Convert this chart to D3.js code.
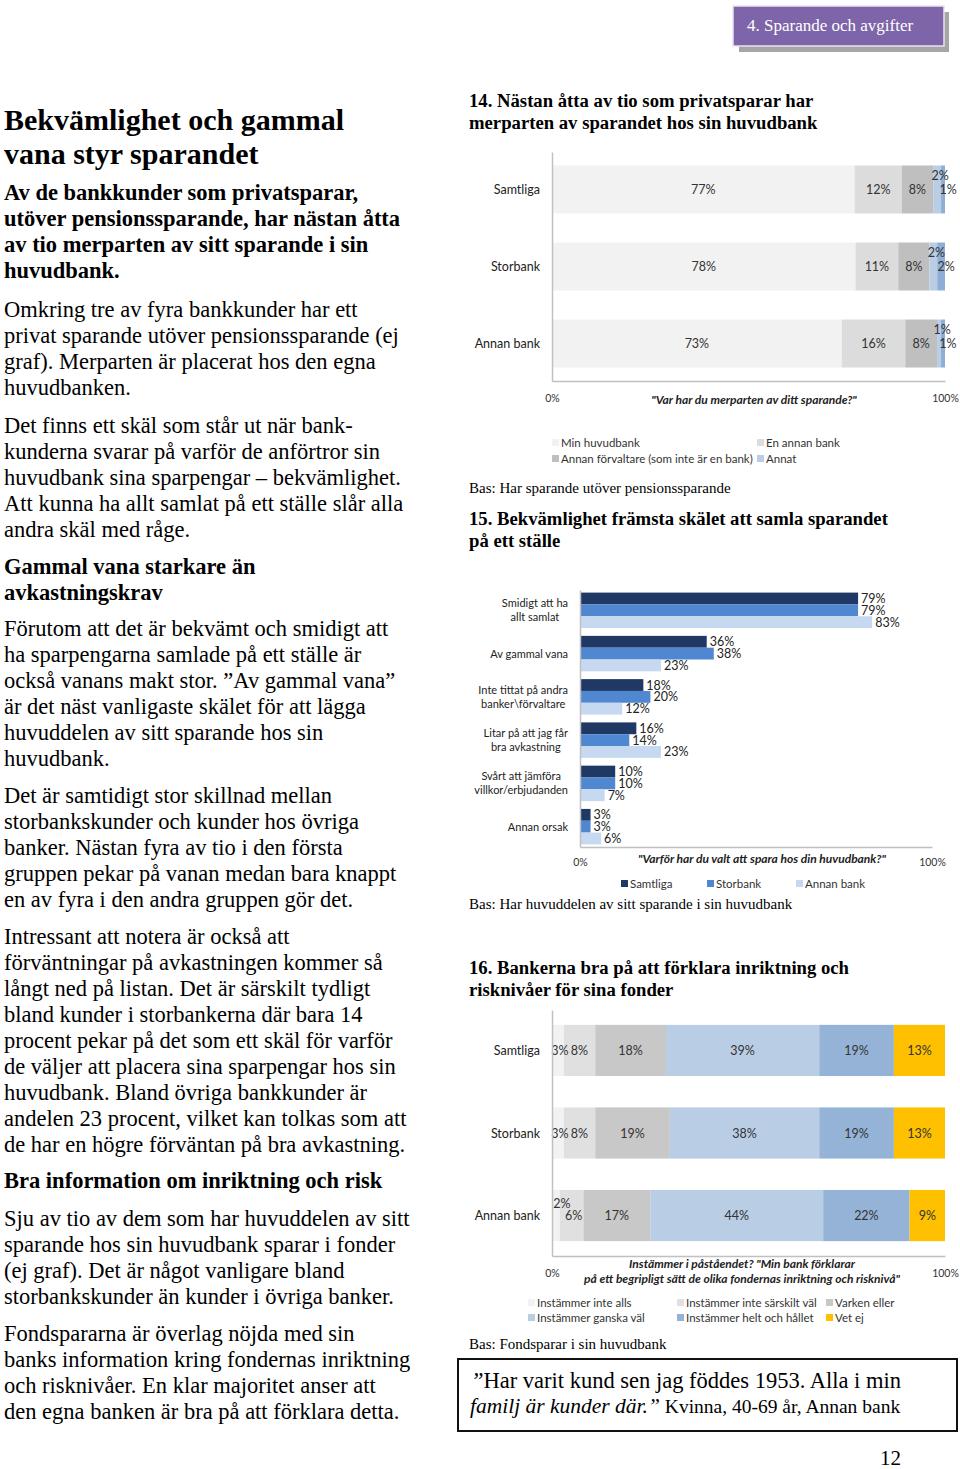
<!DOCTYPE html>
<html><head><meta charset="utf-8">
<script src="https://cdn.jsdelivr.net/npm/d3@7"></script>
<style>body{margin:0;background:#fff}svg{display:block}</style>
</head><body><svg id="page" width="960" height="1469"></svg>
<script>
// ---------- DATA ----------
// Chart 14
const c14Categories = ["Samtliga", "Storbank", "Annan bank"];
const c14Series = ["Min huvudbank", "En annan bank", "Annan förvaltare (som inte är en bank)", "Annat", ""];
const c14Samtliga = [77, 12, 8, 2, 1];
const c14Storbank = [78, 11, 8, 2, 2];
const c14Annan = [73, 16, 8, 1, 1];
const c14Colors = ["#F2F2F2", "#DCDCDC", "#BFBFBF", "#B9CDE5", "#8FAED6"];

// Chart 15
const c15Categories = [["Smidigt att ha", "allt samlat"], ["Av gammal vana"], ["Inte tittat på andra", "banker\\förvaltare"], ["Litar på att jag får", "bra avkastning"], ["Svårt att jämföra", "villkor/erbjudanden"], ["Annan orsak"]];
const c15Series = ["Samtliga", "Storbank", "Annan bank"];
const c15Samtliga = [79, 36, 18, 16, 10, 3];
const c15Storbank = [79, 38, 20, 14, 10, 3];
const c15Annan = [83, 23, 12, 23, 7, 6];
const c15Colors = ["#1F3864", "#4F88D0", "#C6D9F1"];

// Chart 16
const c16Categories = ["Samtliga", "Storbank", "Annan bank"];
const c16Series = ["Instämmer inte alls", "Instämmer inte särskilt väl", "Varken eller", "Instämmer ganska väl", "Instämmer helt och hållet", "Vet ej"];
const c16Samtliga = [3, 8, 18, 39, 19, 13];
const c16Storbank = [3, 8, 19, 38, 19, 13];
const c16Annan = [2, 6, 17, 44, 22, 9];
const c16Colors = ["#F2F2F2", "#E0E0E0", "#C8C8C8", "#B9CDE5", "#95B3D7", "#FFC000"];

const axisTicks = [0, 1];

// ---------- TEXT ----------
const leftBlocks = [
  {y: 130, lh: 34, size: 30, bold: true, lines: ["Bekvämlighet och gammal", "vana styr sparandet"]},
  {y: 200, lh: 26, size: 22.5, bold: true, lines: ["Av de bankkunder som privatsparar,", "utöver pensionssparande, har nästan åtta", "av tio merparten av sitt sparande i sin", "huvudbank."]},
  {y: 317, lh: 26, size: 22.5, lines: ["Omkring tre av fyra bankkunder har ett", "privat sparande utöver pensionssparande (ej", "graf). Merparten är placerat hos den egna", "huvudbanken."]},
  {y: 433, lh: 26, size: 22.5, lines: ["Det finns ett skäl som står ut när bank-", "kunderna svarar på varför de anförtror sin", "huvudbank sina sparpengar – bekvämlighet.", "Att kunna ha allt samlat på ett ställe slår alla", "andra skäl med råge."]},
  {y: 574, lh: 26, size: 22.5, bold: true, lines: ["Gammal vana starkare än", "avkastningskrav"]},
  {y: 636, lh: 26, size: 22.5, lines: ["Förutom att det är bekvämt och smidigt att", "ha sparpengarna samlade på ett ställe är", "också vanans makt stor. ”Av gammal vana”", "är det näst vanligaste skälet för att lägga", "huvuddelen av sitt sparande hos sin", "huvudbank."]},
  {y: 803, lh: 26, size: 22.5, lines: ["Det är samtidigt stor skillnad mellan", "storbankskunder och kunder hos övriga", "banker. Nästan fyra av tio i den första", "gruppen pekar på vanan medan bara knappt", "en av fyra i den andra gruppen gör det."]},
  {y: 944, lh: 26, size: 22.5, lines: ["Intressant att notera är också att", "förväntningar på avkastningen kommer så", "långt ned på listan. Det är särskilt tydligt", "bland kunder i storbankerna där bara 14", "procent pekar på det som ett skäl för varför", "de väljer att placera sina sparpengar hos sin", "huvudbank. Bland övriga bankkunder är", "andelen 23 procent, vilket kan tolkas som att", "de har en högre förväntan på bra avkastning."]},
  {y: 1188, lh: 26, size: 22.5, bold: true, lines: ["Bra information om inriktning och risk"]},
  {y: 1226, lh: 26, size: 22.5, lines: ["Sju av tio av dem som har huvuddelen av sitt", "sparande hos sin huvudbank sparar i fonder", "(ej graf). Det är något vanligare bland", "storbankskunder än kunder i övriga banker."]},
  {y: 1341, lh: 26, size: 22.5, lines: ["Fondspararna är överlag nöjda med sin", "banks information kring fondernas inriktning", "och risknivåer. En klar majoritet anser att", "den egna banken är bra på att förklara detta."]}
];

const SERIF = "'Liberation Serif','Times New Roman',serif";
const SANS = "Lato,'Open Sans',sans-serif";
const svg = d3.select("#page");

// header tab
svg.append("rect").attr("x", 739).attr("y", 12).attr("width", 210).attr("height", 40).attr("fill", "#A6A6A6");
svg.append("rect").attr("x", 733).attr("y", 6).attr("width", 211).attr("height", 40).attr("fill", "#7E64A8").attr("stroke", "#E8E4F0").attr("stroke-width", 1.5);
svg.append("text").attr("x", 747).attr("y", 31).attr("font-family", SERIF).attr("font-size", 17).attr("fill", "#fff").text("4. Sparande och avgifter");

// left column
leftBlocks.forEach(b => {
  b.lines.forEach((l, i) => {
    svg.append("text").attr("x", 4).attr("y", b.y + i * b.lh)
      .attr("font-family", SERIF).attr("font-size", b.size)
      .attr("font-weight", b.bold ? "bold" : "normal").attr("fill", "#000").text(l);
  });
});

function serifLines(lines, x, y, lh, size, bold) {
  lines.forEach((l, i) => svg.append("text").attr("x", x).attr("y", y + i * lh)
    .attr("font-family", SERIF).attr("font-size", size).attr("font-weight", bold ? "bold" : "normal").text(l));
}

function legend(items, colors, positions) {
  items.forEach((name, i) => {
    const p = positions[i];
    svg.append("rect").attr("x", p[0]).attr("y", p[1] - 4).attr("width", 7).attr("height", 7).attr("fill", colors[i]);
    svg.append("text").attr("x", p[0] + 9).attr("y", p[1] + 4).attr("font-family", SANS).attr("font-size", 11.5).attr("fill", "#333").text(name);
  });
}

function bottomAxis(x, yPos, labelY) {
  const g = svg.append("g").attr("transform", `translate(0,${yPos})`)
    .call(d3.axisBottom(x).tickValues(axisTicks).tickFormat(d3.format(".0%")).tickSize(0).tickSizeOuter(0).tickPadding(0));
  g.select(".domain").attr("stroke", "#C0C0C0").attr("stroke-width", 1.5);
  g.selectAll(".tick text").attr("font-family", SANS).attr("font-size", 10.5).attr("fill", "#333").attr("dy", null).attr("y", labelY - yPos);
}
function leftAxis(x0, y) {
  const g = svg.append("g").attr("transform", `translate(${x0},0)`)
    .call(d3.axisLeft(y).tickSize(0).tickSizeOuter(0).tickFormat(""));
  g.select(".domain").attr("stroke", "#C0C0C0").attr("stroke-width", 1.5);
}

function axisTitle(lines, x, y, lh) {
  lines.forEach((l, i) => svg.append("text").attr("x", x).attr("y", y + i * lh).attr("text-anchor", "middle")
    .attr("font-family", SANS).attr("font-size", 12).attr("font-weight", "bold").attr("font-style", "italic")
    .attr("fill", "#222").text(l));
}

function stackedChart(cfg) {
  const x = d3.scaleLinear().domain([0, 1]).range([cfg.x0, cfg.x1]);
  const y = d3.scaleBand().domain(cfg.categories).range([cfg.y0, cfg.y1]).paddingInner(cfg.pi).paddingOuter(cfg.po);
  const rows = cfg.categories.map((c, i) => {
    const vals = cfg.values[i];
    const tot = d3.sum(vals);
    const o = {cat: c};
    cfg.series.forEach((s, j) => o["s" + j] = vals[j] / tot);
    o.raw = vals;
    return o;
  });
  const stack = d3.stack().keys(cfg.series.map((s, j) => "s" + j))(rows);
  const barG = svg.append("g");
  const labG = svg.append("g");
  stack.forEach((layer, j) => {
    barG.append("g").selectAll("rect").data(layer).join("rect")
      .attr("x", d => x(d[0])).attr("width", d => x(d[1]) - x(d[0]))
      .attr("y", d => y(d.data.cat)).attr("height", y.bandwidth()).attr("fill", cfg.colors[j]);
    labG.append("g").selectAll("text").data(layer).join("text")
      .attr("x", d => (x(d[0]) + x(d[1])) / 2 + cfg.dx(j, d.data.raw[j]))
      .attr("y", d => y(d.data.cat) + y.bandwidth() / 2 + 4.5 + cfg.dy(j, d.data.raw[j]))
      .attr("text-anchor", "middle").attr("font-family", SANS).attr("font-size", cfg.labelSize).attr("fill", "#333")
      .text(d => d.data.raw[j] + "%");
  });
  leftAxis(cfg.x0, y);
  bottomAxis(x, cfg.y1, cfg.tickY);
  svg.append("g").selectAll("text").data(cfg.categories).join("text")
    .attr("x", cfg.x0 - 12).attr("y", d => y(d) + y.bandwidth() / 2 + 4.5)
    .attr("text-anchor", "end").attr("font-family", SANS).attr("font-size", 12.5).attr("fill", "#222").text(d => d);
}

// ---------- Chart 14 ----------
serifLines(["14. Nästan åtta av tio som privatsparar har", "merparten av sparandet hos sin huvudbank"], 469, 107, 22, 18.7, true);
stackedChart({
  categories: c14Categories, series: c14Series, values: [c14Samtliga, c14Storbank, c14Annan], colors: c14Colors,
  x0: 552, x1: 945, y0: 152, y1: 381, pi: 0.377, po: 0.175, tickY: 402, labelSize: 12.5,
  dx: (j, v) => j === 4 ? 5 : (j === 3 ? 3 : 0),
  dy: (j, v) => j === 3 ? -14 : 0
});
axisTitle(["\"Var har du merparten av ditt sparande?\""], 754, 404, 0);
legend(c14Series.slice(0, 4), c14Colors, [[552, 443], [757, 443], [552, 459], [757, 459]]);
serifLines(["Bas: Har sparande utöver pensionssparande"], 469, 493, 0, 15, false);

// ---------- Chart 15 ----------
serifLines(["15. Bekvämlighet främsta skälet att samla sparandet", "på ett ställe"], 469, 525, 22, 18.7, true);
(function () {
  const x = d3.scaleLinear().domain([0, 1]).range([580, 932]);
  const keys = c15Categories.map(c => c.join(" "));
  const y = d3.scaleBand().domain(keys).range([590, 847]).paddingInner(0.18).paddingOuter(0.06);
  const ys = d3.scaleBand().domain(c15Series).range([0, y.bandwidth()]);
  const seriesVals = [c15Samtliga, c15Storbank, c15Annan];
  const barG = svg.append("g"), labG = svg.append("g");
  c15Series.forEach((s, j) => {
    const data = keys.map((k, i) => ({k, v: seriesVals[j][i]}));
    barG.append("g").selectAll("rect").data(data).join("rect")
      .attr("x", x(0)).attr("y", d => y(d.k) + ys(s)).attr("height", ys.bandwidth())
      .attr("width", d => x(d.v / 100) - x(0)).attr("fill", c15Colors[j]);
    labG.append("g").selectAll("text").data(data).join("text")
      .attr("x", d => x(d.v / 100) + 3).attr("y", d => y(d.k) + ys(s) + ys.bandwidth() / 2 + 4.5)
      .attr("font-family", SANS).attr("font-size", 12.5).attr("fill", "#222").text(d => d.v + "%");
  });
  leftAxis(580, y);
  bottomAxis(x, 847, 866);
  c15Categories.forEach((lines, i) => {
    const cy = y(keys[i]) + y.bandwidth() / 2;
    const g = svg.append("g");
    const ts = lines.map((l, li) => g.append("text").attr("font-family", SANS).attr("font-size", 11).attr("fill", "#222")
      .attr("text-anchor", "middle").attr("y", cy + 4 + (li - (lines.length - 1) / 2) * 14).text(l));
    const w = d3.max(ts, t => t.node().getComputedTextLength());
    ts.forEach(t => t.attr("x", 568 - w / 2));
  });
  axisTitle(["\"Varför har du valt att spara hos din huvudbank?\""], 762, 863, 0);
})();
legend(c15Series, c15Colors, [[621, 884], [707, 884], [796, 884]]);
serifLines(["Bas: Har huvuddelen av sitt sparande i sin huvudbank"], 469, 909, 0, 15, false);

// ---------- Chart 16 ----------
serifLines(["16. Bankerna bra på att förklara inriktning och", "risknivåer för sina fonder"], 469, 974, 22, 18.7, true);
stackedChart({
  categories: c16Categories, series: c16Series, values: [c16Samtliga, c16Storbank, c16Annan], colors: c16Colors,
  x0: 552, x1: 945, y0: 1010, y1: 1256, pi: 0.38, po: 0.18, tickY: 1277, labelSize: 12.5,
  dx: (j, v) => (j === 0 ? (v < 3 ? 6 : 2) : (j === 1 && v < 7 ? 2 : 0)),
  dy: (j, v) => (j === 0 && v < 3 ? -12 : 0)
});
axisTitle(["Instämmer i påståendet? \"Min bank förklarar", "på ett begripligt sätt de olika fondernas inriktning och risknivå\""], 742, 1268, 15);
legend(c16Series, c16Colors, [[528, 1303], [677, 1303], [826, 1303], [528, 1318], [677, 1318], [826, 1318]]);
serifLines(["Bas: Fondsparar i sin huvudbank"], 469, 1349, 0, 15, false);

// ---------- Quote ----------
svg.append("rect").attr("x", 458).attr("y", 1359).attr("width", 499).attr("height", 72).attr("fill", "none").attr("stroke", "#111").attr("stroke-width", 2);
const q1 = svg.append("text").attr("x", 471).attr("y", 1388).attr("font-family", SERIF).attr("font-size", 22.5);
q1.append("tspan").attr("font-style", "italic").text("”");
q1.append("tspan").text("Har varit kund sen jag föddes 1953. Alla i min");
const q2 = svg.append("text").attr("x", 470).attr("y", 1413).attr("font-family", SERIF).attr("font-size", 21.5);
q2.append("tspan").attr("font-style", "italic").text("familj är kunder där.”");
q2.append("tspan").attr("font-size", 19.5).text(" Kvinna, 40-69 år, Annan bank");

svg.append("text").attr("x", 880).attr("y", 1465).attr("font-family", SERIF).attr("font-size", 21).text("12");
</script></body></html>
